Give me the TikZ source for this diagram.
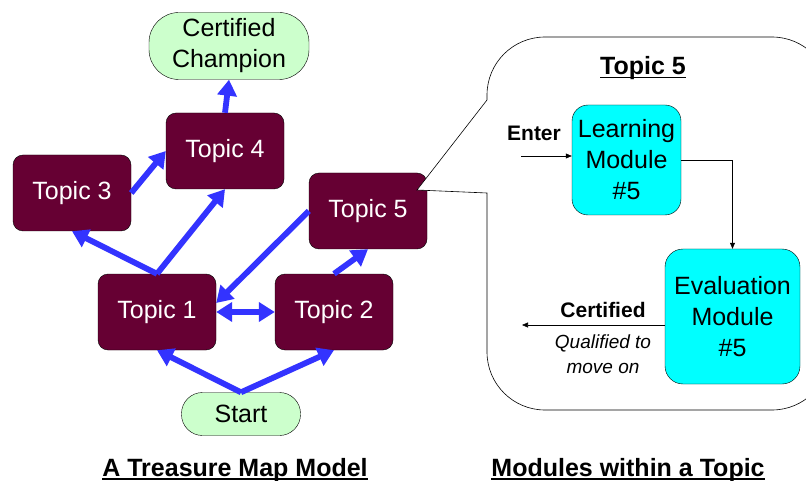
\documentclass[tikz,border=0pt]{standalone}
\usepackage{fontspec}
\setmainfont{Liberation Sans}
\usetikzlibrary{positioning,arrows.meta}

\definecolor{granate}{HTML}{660033}
\definecolor{verdeclaro}{HTML}{CCFFCC}
\definecolor{azul}{HTML}{3333FF}
\definecolor{cian}{HTML}{00FFFF}

% subrayado grueso para los titulos
\newsavebox{\cajasub}
\newcommand{\subrayado}[1]{\sbox{\cajasub}{#1}\rlap{\usebox{\cajasub}}\rule[-3.5pt]{\wd\cajasub}{1.6pt}}

\begin{document}
\begin{tikzpicture}[
  x=1pt, y=1pt,
  tema/.style={draw, fill=granate, text=white, rounded corners=10pt, minimum width=118pt, minimum height=76pt, font=\fontsize{25}{30}\selectfont},
  meta/.style={draw, fill=verdeclaro, align=center, font=\fontsize{25}{31}\selectfont},
  modulo/.style={draw, fill=cian, rounded corners=16pt, align=center, inner sep=2pt, font=\fontsize{25}{31}\selectfont},
  titulo/.style={anchor=base, font=\bfseries\fontsize{25}{30}\selectfont},
  rotulo/.style={font=\bfseries\fontsize{21}{25}\selectfont},
  flecha/.style={-{Triangle[length=16pt, width=19pt]}, line width=5.8pt, azul},
  enlace/.style={-{Triangle[length=6pt, width=5pt]}, line width=0.6pt}
]
\path[use as bounding box, clip] (0,0) rectangle (806,480);

% Mapa de temas
\node[meta, minimum width=160pt, minimum height=67pt, rounded corners=30pt] (champ) at (229,434) {Certified\\Champion};
\node[tema] (t4) at (225,329) {Topic 4};
\node[tema] (t3) at (72,287) {Topic 3};
\node[tema] (t5) at (368,269) {Topic 5};
\node[tema] (t1) at (157,168) {Topic 1};
\node[tema] (t2) at (334,168) {Topic 2};
\node[meta, minimum width=119pt, minimum height=43pt, rounded corners=21pt] (start) at (241,66) {Start};

\draw[flecha] (start.north) -- (t1.south);
\draw[flecha] (start.north) -- (t2.south);
\draw[flecha] (t1.north) -- (t3.south);
\draw[flecha] (t1.north) -- (t4.south);
\draw[flecha] (t3.east) -- (t4.west);
\draw[flecha] (t4.north) -- (champ.south);
\draw[flecha, {Triangle[length=16pt, width=19pt]}-{Triangle[length=16pt, width=19pt]}] (t1.east) -- (t2.west);
\draw[flecha] (t5.west) -- ([yshift=9pt]t1.east);
\draw[flecha] (t2.north) -- (t5.south);

% Globo con el detalle del tema 5
\draw[fill=white, line width=0.6pt] (417,290) -- (487,380) -- (487,385)
  arc[start angle=180, end angle=90, radius=58pt] -- (772,443)
  arc[start angle=90, end angle=0, radius=58pt] -- (830,128)
  arc[start angle=0, end angle=-90, radius=58pt] -- (545,70)
  arc[start angle=270, end angle=180, radius=58pt] -- (487,287) -- cycle;

\node[titulo] (cab5) at (643,405) {\subrayado{Topic 5}};
\node[modulo, minimum width=109pt, minimum height=110pt] (learn) at (626.5,320) {Learning\\Module\\\#5};
\node[modulo, minimum width=135pt, minimum height=135pt, rounded corners=18pt] (eval) at (732.5,163.5) {Evaluation\\Module\\\#5};

\node[rotulo] (entra) at (534,347) {Enter};
\coordinate (entrada) at (521,324);
\draw[enlace] (entrada) -- (entrada -| learn.west);
\draw[enlace] (learn.east) -| (eval.north);

\coordinate (salida) at (522,155);
\draw[enlace] (salida -| eval.west) -- (salida);
\node[rotulo] (cert) at (603,170) {Certified};
\node[font=\itshape\fontsize{19}{25}\selectfont, align=center] (apto) at (603,126) {Qualified to\\move on};

% Titulos
\node[titulo] (tit1) at (235,4) {\subrayado{A Treasure Map Model}};
\node[titulo] (tit2) at (628,4) {\subrayado{Modules within a Topic}};
\end{tikzpicture}
\end{document}
